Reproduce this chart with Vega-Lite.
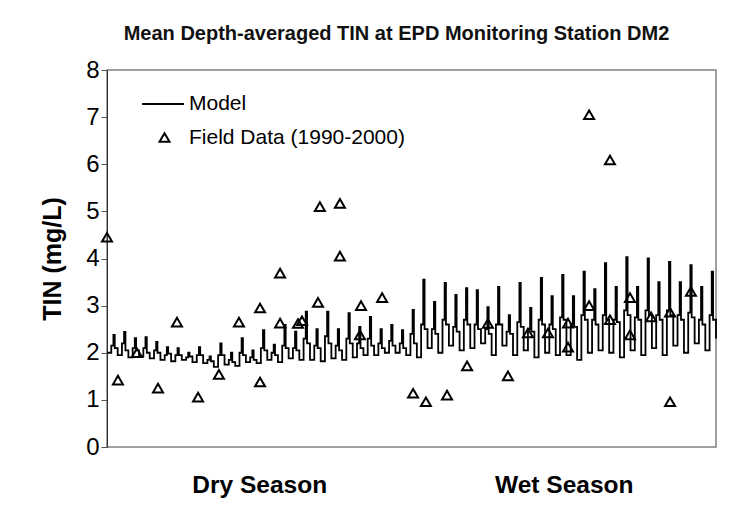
{
  "$schema": "https://vega.github.io/schema/vega-lite/v6.json",
  "width": 609,
  "height": 377,
  "autosize": {"type": "none"},
  "padding": {"left": 107, "top": 70, "right": 30, "bottom": 64},
  "background": "white",
  "title": {"text": "Mean Depth-averaged TIN at EPD Monitoring Station DM2", "font": "Liberation Sans", "fontSize": 20, "fontWeight": "bold", "color": "#111111", "offset": 14, "dx": -15},
  "config": {"view": {"stroke": "#808080", "strokeWidth": 1.5}, "font": "Liberation Sans"},
  "datasets": {
    "model": [
      {"t":0,"v":2.0},{"t":1.6,"v":2.15},{"t":2.4,"v":2.38},{"t":2.9,"v":2.1},
      {"t":4,"v":1.95},{"t":5.6,"v":2.2},{"t":6.4,"v":2.44},{"t":6.9,"v":2.05},
      {"t":8,"v":1.9},{"t":9.6,"v":2.1},{"t":10.4,"v":2.31},{"t":10.9,"v":2.05},
      {"t":12,"v":1.92},{"t":13.6,"v":2.1},{"t":14.4,"v":2.33},{"t":14.9,"v":2.0},
      {"t":16,"v":1.88},{"t":17.6,"v":2.05},{"t":18.4,"v":2.23},{"t":18.9,"v":2.0},
      {"t":20,"v":1.85},{"t":21.6,"v":1.95},{"t":22.4,"v":2.12},{"t":22.9,"v":1.98},
      {"t":24,"v":1.82},{"t":25.6,"v":1.95},{"t":26.4,"v":2.1},{"t":26.9,"v":1.95},
      {"t":28,"v":1.85},{"t":29.6,"v":1.9},{"t":30.4,"v":2.0},{"t":30.9,"v":1.92},
      {"t":32,"v":1.8},{"t":33.6,"v":1.95},{"t":34.4,"v":2.12},{"t":34.9,"v":1.95},
      {"t":36,"v":1.78},{"t":37.6,"v":1.85},{"t":38.4,"v":1.92},{"t":38.9,"v":1.82},
      {"t":40,"v":1.7},{"t":41.6,"v":1.95},{"t":42.4,"v":2.2},{"t":42.9,"v":1.95},
      {"t":44,"v":1.75},{"t":45.6,"v":1.85},{"t":46.4,"v":2.0},{"t":46.9,"v":1.8},
      {"t":48,"v":1.72},{"t":49.6,"v":2.0},{"t":50.4,"v":2.31},{"t":50.9,"v":1.95},
      {"t":52,"v":1.8},{"t":53.6,"v":1.9},{"t":54.4,"v":2.05},{"t":54.9,"v":1.85},
      {"t":56,"v":1.78},{"t":57.6,"v":2.1},{"t":58.4,"v":2.48},{"t":58.9,"v":2.05},
      {"t":60,"v":1.85},{"t":61.6,"v":2.0},{"t":62.4,"v":2.17},{"t":62.9,"v":1.95},
      {"t":64,"v":1.8},{"t":65.6,"v":2.15},{"t":66.4,"v":2.59},{"t":66.9,"v":2.1},
      {"t":68,"v":1.88},{"t":69.6,"v":2.1},{"t":70.4,"v":2.45},{"t":70.9,"v":2.05},
      {"t":72,"v":1.85},{"t":73.6,"v":2.3},{"t":74.4,"v":2.87},{"t":74.9,"v":2.2},
      {"t":76,"v":1.85},{"t":77.6,"v":2.15},{"t":78.4,"v":2.5},{"t":78.9,"v":2.1},
      {"t":80,"v":1.82},{"t":81.6,"v":2.35},{"t":82.4,"v":2.87},{"t":82.9,"v":2.2},
      {"t":84,"v":1.88},{"t":85.6,"v":2.15},{"t":86.4,"v":2.5},{"t":86.9,"v":2.05},
      {"t":88,"v":1.85},{"t":89.6,"v":2.3},{"t":90.4,"v":2.84},{"t":90.9,"v":2.2},
      {"t":92,"v":1.9},{"t":93.6,"v":2.2},{"t":94.4,"v":2.55},{"t":94.9,"v":2.1},
      {"t":96,"v":1.95},{"t":97.6,"v":2.3},{"t":98.4,"v":2.76},{"t":98.9,"v":2.15},
      {"t":100,"v":1.95},{"t":101.6,"v":2.2},{"t":102.4,"v":2.5},{"t":102.9,"v":2.1},
      {"t":104,"v":2.0},{"t":105.6,"v":2.25},{"t":106.4,"v":2.59},{"t":106.9,"v":2.15},
      {"t":108,"v":2.0},{"t":109.6,"v":2.2},{"t":110.4,"v":2.48},{"t":110.9,"v":2.1},
      {"t":112,"v":1.95},{"t":113.6,"v":2.4},{"t":114.4,"v":2.91},{"t":114.9,"v":2.2},
      {"t":116,"v":1.9},{"t":117.6,"v":2.6},{"t":118.4,"v":3.55},{"t":118.9,"v":2.5},
      {"t":120,"v":2.1},{"t":121.6,"v":2.5},{"t":122.4,"v":3.08},{"t":122.9,"v":2.4},
      {"t":124,"v":2.0},{"t":125.6,"v":2.7},{"t":126.4,"v":3.48},{"t":126.9,"v":2.6},
      {"t":128,"v":2.15},{"t":129.6,"v":2.55},{"t":130.4,"v":3.23},{"t":130.9,"v":2.45},
      {"t":132,"v":2.05},{"t":133.6,"v":2.7},{"t":134.4,"v":3.37},{"t":134.9,"v":2.6},
      {"t":136,"v":2.1},{"t":137.6,"v":2.6},{"t":138.4,"v":3.33},{"t":138.9,"v":2.5},
      {"t":140,"v":2.2},{"t":141.6,"v":2.5},{"t":142.4,"v":2.97},{"t":142.9,"v":2.4},
      {"t":144,"v":1.95},{"t":145.6,"v":2.6},{"t":146.4,"v":3.4},{"t":146.9,"v":2.6},
      {"t":148,"v":2.15},{"t":149.6,"v":2.45},{"t":150.4,"v":2.8},{"t":150.9,"v":2.4},
      {"t":152,"v":1.95},{"t":153.6,"v":2.65},{"t":154.4,"v":3.48},{"t":154.9,"v":2.55},
      {"t":156,"v":2.05},{"t":157.6,"v":2.5},{"t":158.4,"v":2.95},{"t":158.9,"v":2.45},
      {"t":160,"v":1.9},{"t":161.6,"v":2.7},{"t":162.4,"v":3.59},{"t":162.9,"v":2.6},
      {"t":164,"v":2.0},{"t":165.6,"v":2.6},{"t":166.4,"v":3.2},{"t":166.9,"v":2.5},
      {"t":168,"v":1.95},{"t":169.6,"v":2.75},{"t":170.4,"v":3.65},{"t":170.9,"v":2.7},
      {"t":172,"v":1.95},{"t":173.6,"v":2.6},{"t":174.4,"v":3.2},{"t":174.9,"v":2.55},
      {"t":176,"v":1.85},{"t":177.6,"v":2.8},{"t":178.4,"v":3.72},{"t":178.9,"v":2.7},
      {"t":180,"v":2.0},{"t":181.6,"v":2.7},{"t":182.4,"v":3.35},{"t":182.9,"v":2.6},
      {"t":184,"v":2.05},{"t":185.6,"v":2.8},{"t":186.4,"v":3.9},{"t":186.9,"v":2.7},
      {"t":188,"v":2.0},{"t":189.6,"v":2.7},{"t":190.4,"v":3.4},{"t":190.9,"v":2.65},
      {"t":192,"v":1.9},{"t":193.6,"v":2.9},{"t":194.4,"v":4.03},{"t":194.9,"v":2.8},
      {"t":196,"v":2.05},{"t":197.6,"v":2.75},{"t":198.4,"v":3.4},{"t":198.9,"v":2.7},
      {"t":200,"v":1.95},{"t":201.6,"v":2.9},{"t":202.4,"v":4.0},{"t":202.9,"v":2.8},
      {"t":204,"v":2.1},{"t":205.6,"v":2.8},{"t":206.4,"v":3.5},{"t":206.9,"v":2.7},
      {"t":208,"v":1.95},{"t":209.6,"v":2.9},{"t":210.4,"v":3.93},{"t":210.9,"v":2.8},
      {"t":212,"v":2.15},{"t":213.6,"v":2.8},{"t":214.4,"v":3.5},{"t":214.9,"v":2.7},
      {"t":216,"v":2.0},{"t":217.6,"v":2.85},{"t":218.4,"v":3.86},{"t":218.9,"v":2.75},
      {"t":220,"v":2.2},{"t":221.6,"v":2.7},{"t":222.4,"v":3.4},{"t":222.9,"v":2.6},
      {"t":224,"v":2.05},{"t":225.6,"v":2.8},{"t":226.4,"v":3.72},{"t":226.9,"v":2.7},
      {"t":228,"v":2.3}
    ],
    "field": [
      {"t":0,"v":4.45,"series":"Field Data (1990-2000)"},
      {"t":4.1,"v":1.42,"series":"Field Data (1990-2000)"},
      {"t":11.2,"v":2.0,"series":"Field Data (1990-2000)"},
      {"t":19.1,"v":1.25,"series":"Field Data (1990-2000)"},
      {"t":26.2,"v":2.65,"series":"Field Data (1990-2000)"},
      {"t":34.1,"v":1.06,"series":"Field Data (1990-2000)"},
      {"t":41.9,"v":1.54,"series":"Field Data (1990-2000)"},
      {"t":49.4,"v":2.65,"series":"Field Data (1990-2000)"},
      {"t":57.3,"v":1.38,"series":"Field Data (1990-2000)"},
      {"t":57.3,"v":2.95,"series":"Field Data (1990-2000)"},
      {"t":64.8,"v":3.69,"series":"Field Data (1990-2000)"},
      {"t":64.8,"v":2.63,"series":"Field Data (1990-2000)"},
      {"t":71.5,"v":2.62,"series":"Field Data (1990-2000)"},
      {"t":73.0,"v":2.68,"series":"Field Data (1990-2000)"},
      {"t":79.0,"v":3.07,"series":"Field Data (1990-2000)"},
      {"t":79.7,"v":5.1,"series":"Field Data (1990-2000)"},
      {"t":87.2,"v":5.17,"series":"Field Data (1990-2000)"},
      {"t":87.2,"v":4.05,"series":"Field Data (1990-2000)"},
      {"t":94.7,"v":2.38,"series":"Field Data (1990-2000)"},
      {"t":95.1,"v":3.0,"series":"Field Data (1990-2000)"},
      {"t":103.0,"v":3.17,"series":"Field Data (1990-2000)"},
      {"t":114.6,"v":1.14,"series":"Field Data (1990-2000)"},
      {"t":119.4,"v":0.96,"series":"Field Data (1990-2000)"},
      {"t":127.3,"v":1.1,"series":"Field Data (1990-2000)"},
      {"t":134.8,"v":1.72,"series":"Field Data (1990-2000)"},
      {"t":142.6,"v":2.62,"series":"Field Data (1990-2000)"},
      {"t":150.1,"v":1.51,"series":"Field Data (1990-2000)"},
      {"t":157.6,"v":2.42,"series":"Field Data (1990-2000)"},
      {"t":165.1,"v":2.42,"series":"Field Data (1990-2000)"},
      {"t":172.6,"v":2.12,"series":"Field Data (1990-2000)"},
      {"t":172.6,"v":2.63,"series":"Field Data (1990-2000)"},
      {"t":180.5,"v":3.0,"series":"Field Data (1990-2000)"},
      {"t":180.5,"v":7.05,"series":"Field Data (1990-2000)"},
      {"t":188.3,"v":6.09,"series":"Field Data (1990-2000)"},
      {"t":188.3,"v":2.7,"series":"Field Data (1990-2000)"},
      {"t":195.8,"v":3.17,"series":"Field Data (1990-2000)"},
      {"t":195.8,"v":2.38,"series":"Field Data (1990-2000)"},
      {"t":203.7,"v":2.76,"series":"Field Data (1990-2000)"},
      {"t":210.8,"v":2.86,"series":"Field Data (1990-2000)"},
      {"t":210.8,"v":0.96,"series":"Field Data (1990-2000)"},
      {"t":218.6,"v":3.3,"series":"Field Data (1990-2000)"}
    ]
  },
  "layer": [
    {
      "data": {"name": "model"},
      "mark": {"type": "line", "interpolate": "step-after", "strokeWidth": 1.8},
      "encoding": {
        "x": {"field": "t", "type": "quantitative", "scale": {"domain": [0, 228], "nice": false, "zero": false},
          "axis": {"values": [57, 171], "labelExpr": "datum.value == 57 ? 'Dry Season' : 'Wet Season'", "ticks": false, "domain": false, "grid": false, "title": null, "labelFont": "Liberation Sans", "labelFontSize": 24.5, "labelFontWeight": "bold", "labelColor": "black", "labelPadding": 26}},
        "y": {"field": "v", "type": "quantitative", "scale": {"domain": [0, 8], "nice": false},
          "axis": {"values": [0,1,2,3,4,5,6,7,8], "grid": false, "title": "TIN (mg/L)", "titleFont": "Liberation Sans", "titleFontSize": 25, "titleFontWeight": "bold", "titleColor": "black", "titlePadding": 20, "labelFont": "Liberation Sans", "labelFontSize": 24, "labelColor": "black", "labelPadding": 2, "tickSize": 6, "tickColor": "#555555", "domainColor": "#333333"}},
        "color": {"datum": "Model", "type": "nominal", "scale": {"domain": ["Model"], "range": ["black"]},
          "legend": {"title": null, "orient": "none", "legendX": 34, "legendY": 12, "padding": 0,
            "symbolType": "stroke", "symbolSize": 1764, "symbolStrokeWidth": 1.8, "symbolStrokeColor": "black",
            "labelFont": "Liberation Sans", "labelFontSize": 21, "labelColor": "black", "labelOffset": 4, "labelLimit": 400}}
      }
    },
    {
      "data": {"name": "field"},
      "mark": {"type": "point", "filled": false, "stroke": "black", "strokeWidth": 2, "size": 100, "opacity": 1},
      "encoding": {
        "x": {"field": "t", "type": "quantitative"},
        "y": {"field": "v", "type": "quantitative"},
        "shape": {"field": "series", "type": "nominal",
          "scale": {"domain": ["Field Data (1990-2000)"], "range": ["triangle-up"]},
          "legend": {"title": null, "orient": "none", "legendX": 47, "legendY": 57, "padding": 0,
            "labelFont": "Liberation Sans", "labelFontSize": 21, "labelColor": "black", "labelOffset": 14, "labelLimit": 400,
            "symbolSize": 100, "symbolStrokeColor": "black", "symbolFillColor": "transparent", "symbolStrokeWidth": 2}}
      }
    }
  ]
}
